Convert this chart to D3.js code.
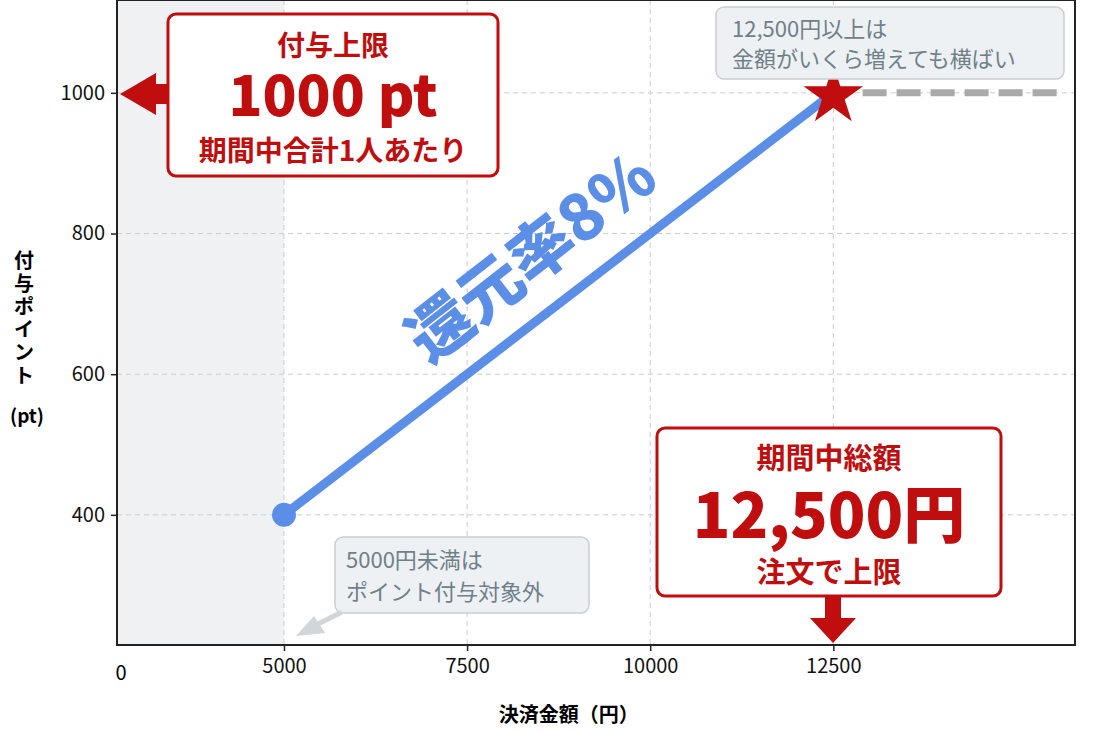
<!DOCTYPE html><html><head><meta charset="utf-8">
<script src="https://cdn.jsdelivr.net/npm/d3@7"></script>
<style>body{margin:0;background:#fff;font-family:"Noto Sans CJK JP",sans-serif}</style></head><body>
<svg id="c" width="1100" height="733"></svg>
<script>
const xTicks=[5000,7500,10000,12500];
const yTicks=[400,600,800,1000];
const lineX=[5000,12500];
const lineY=[400,1000];
const capX=[12900,15600];
const capY=[1000,1000];
const svg=d3.select("#c");
const L=117,R=1075,T=0,B=645;
const x=d3.scaleLinear().domain([2720,15800]).range([L,R]);
const y=d3.scaleLinear().domain([215,1132]).range([B,T]);
const red="#c00d0d",blue="#5b8ee6";
svg.append("rect").attr("x",L).attr("y",T).attr("width",x(5000)-L).attr("height",B-T).attr("fill","#eff1f3");
const g=svg.append("g");
xTicks.forEach(v=>g.append("line").attr("x1",x(v)).attr("x2",x(v)).attr("y1",T).attr("y2",B).attr("stroke","#ccc").attr("stroke-dasharray","5,4"));
yTicks.forEach(v=>g.append("line").attr("x1",L).attr("x2",R).attr("y1",y(v)).attr("y2",y(v)).attr("stroke","#ccc").attr("stroke-dasharray","5,4"));
svg.append("rect").attr("x",L).attr("y",T).attr("width",R-L).attr("height",B-T).attr("fill","none").attr("stroke","#222").attr("stroke-width",2);
const xa=svg.append("g").attr("transform",`translate(0,${B})`).call(d3.axisBottom(x).tickValues(xTicks).tickSize(6).tickPadding(8).tickFormat(d3.format("d")));
const ya=svg.append("g").attr("transform",`translate(${L},0)`).call(d3.axisLeft(y).tickValues(yTicks).tickSize(6).tickPadding(6).tickFormat(d3.format("d")));
[xa,ya].forEach(a=>{a.select(".domain").remove();a.attr("font-size",null).attr("font-family",null);a.selectAll("text").style("font-size","20px").style("font-family","Noto Sans CJK JP").attr("fill","#111");a.selectAll("line").attr("stroke","#222").attr("stroke-width",1.5);});
svg.append("text").attr("x",L+4).attr("y",B+35).attr("text-anchor","middle").style("font-size","20px").text("0");
svg.append("text").attr("x",x(8750)+10).attr("y",722).attr("text-anchor","middle").style("font-size","20px").attr("font-weight",700).text("決済金額（円）");
const yl=svg.append("text").style("font-size","20px").attr("font-weight",700).attr("text-anchor","middle");
["付","与","ポ","イ","ン","ト"].forEach((c,i)=>yl.append("tspan").attr("x",24).attr("y",268+i*23).text(c));
svg.append("text").attr("x",27).attr("y",423).attr("text-anchor","middle").style("font-size","19px").attr("font-weight",700).text("(pt)");
svg.append("line").attr("x1",x(capX[0])).attr("x2",x(capX[1])).attr("y1",y(capY[0])).attr("y2",y(capY[1])).attr("stroke","#aaa").attr("stroke-width",7).attr("stroke-dasharray","24,10");
svg.append("line").attr("x1",x(lineX[0])).attr("y1",y(lineY[0])).attr("x2",x(lineX[1])).attr("y2",y(lineY[1])).attr("stroke",blue).attr("stroke-width",9);
svg.append("circle").attr("cx",x(lineX[0])).attr("cy",y(lineY[0])).attr("r",12).attr("fill",blue);
svg.append("path").attr("d",d3.symbol(d3.symbolStar,1100)()).attr("transform",`translate(${x(lineX[1])},${y(lineY[1])+3})`).attr("fill",red);
svg.append("text").attr("transform",`translate(545,275) rotate(-38)`).attr("text-anchor","middle").style("font-size","64px").attr("font-weight",900).attr("fill",blue).text("還元率8%");
svg.append("rect").attr("x",168).attr("y",14).attr("width",330).attr("height",162).attr("rx",8).attr("fill","#fff").attr("stroke",red).attr("stroke-width",3);
svg.append("path").attr("d","M168,84 L156,84 L156,73 L120,94 L156,115 L156,104 L168,104 Z").attr("fill",red);
svg.append("text").attr("x",333).attr("y",56).attr("text-anchor","middle").style("font-size","28px").attr("font-weight",700).attr("fill",red).text("付与上限");
svg.append("text").attr("x",333).attr("y",116).attr("text-anchor","middle").style("font-size","56px").attr("font-weight",900).attr("fill",red).text("1000 pt");
svg.append("text").attr("x",333).attr("y",161).attr("text-anchor","middle").style("font-size","28px").attr("font-weight",700).attr("fill",red).text("期間中合計1人あたり");
svg.append("rect").attr("x",657).attr("y",428).attr("width",344).attr("height",168).attr("rx",8).attr("fill","#fff").attr("stroke",red).attr("stroke-width",3);
svg.append("path").attr("d","M825,597 L825,618 L810,618 L833,643 L856,618 L841,618 L841,597 Z").attr("fill",red);
svg.append("text").attr("x",829).attr("y",469).attr("text-anchor","middle").style("font-size","29px").attr("font-weight",700).attr("fill",red).text("期間中総額");
svg.append("text").attr("x",829).attr("y",538).attr("text-anchor","middle").style("font-size","62px").attr("font-weight",900).attr("fill",red).text("12,500円");
svg.append("text").attr("x",829).attr("y",583).attr("text-anchor","middle").style("font-size","29px").attr("font-weight",700).attr("fill",red).text("注文で上限");
svg.append("rect").attr("x",716).attr("y",7).attr("width",348).attr("height",72).attr("rx",8).attr("fill","#eef1f4").attr("stroke","#c9ced3").attr("stroke-width",1.5);
svg.append("text").attr("x",732).attr("y",37).style("font-size","22px").attr("fill","#6f8088").text("12,500円以上は");
svg.append("text").attr("x",732).attr("y",67).style("font-size","22px").attr("fill","#6f8088").text("金額がいくら増えても横ばい");
svg.append("rect").attr("x",335).attr("y",537).attr("width",254).attr("height",76).attr("rx",8).attr("fill","#eef1f4").attr("stroke","#c9ced3").attr("stroke-width",1.5);
svg.append("text").attr("x",346).attr("y",568).style("font-size","22px").attr("fill","#6f8088").text("5000円未満は");
svg.append("text").attr("x",346).attr("y",600).style("font-size","22px").attr("fill","#6f8088").text("ポイント付与対象外");
svg.append("line").attr("x1",342).attr("y1",612).attr("x2",310).attr("y2",628).attr("stroke","#d0d6da").attr("stroke-width",5);
svg.append("path").attr("d","M296,636 L314,616 L325,633 Z").attr("fill","#d0d6da");
</script></body></html>
